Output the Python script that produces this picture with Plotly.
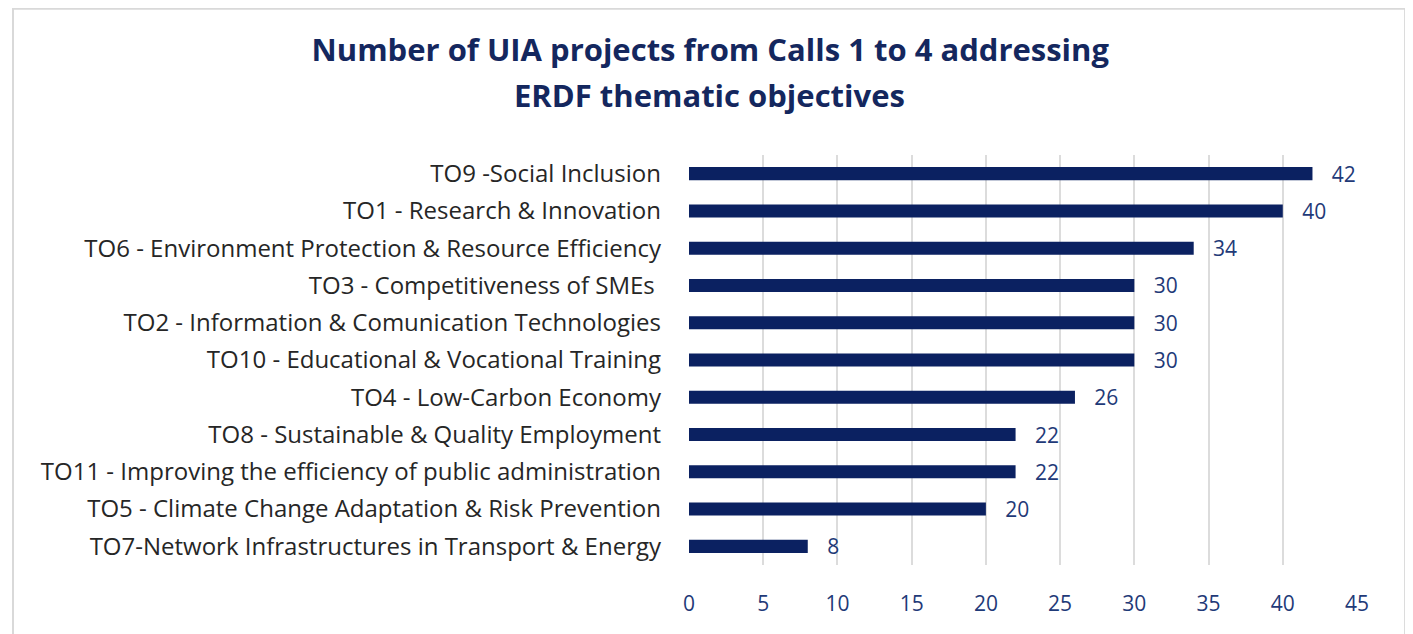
import plotly.graph_objects as go

## 데이터 (위에서 아래 순서)
categories = [
    "TO9 -Social Inclusion",
    "TO1 - Research & Innovation",
    "TO6 - Environment Protection & Resource Efficiency",
    "TO3 - Competitiveness of SMEs ",
    "TO2 - Information & Comunication Technologies",
    "TO10 - Educational & Vocational Training",
    "TO4 - Low-Carbon Economy",
    "TO8 - Sustainable & Quality Employment",
    "TO11 - Improving the efficiency of public administration",
    "TO5 - Climate Change Adaptation & Risk Prevention",
    "TO7-Network Infrastructures in Transport & Energy",
]
projects = [42, 40, 34, 30, 30, 30, 26, 22, 22, 20, 8]
x_ticks = [0, 5, 10, 15, 20, 25, 30, 35, 40, 45]

navy = "#0b2161"
label_navy = "#1f3a78"

fig = go.Figure(go.Bar(
    x=projects,
    y=categories,
    orientation="h",
    marker=dict(color=navy, line=dict(width=0)),
    text=["\u00a0\u00a0\u00a0" + str(v) for v in projects],
    textposition="outside",
    constraintext="none",
    textfont=dict(family="Open Sans", size=21, color=label_navy),
    cliponaxis=False,
))

fig.update_layout(
    width=1413, height=634,
    margin=dict(l=681, r=64, t=147, b=77),
    paper_bgcolor="white", plot_bgcolor="white",
    bargap=0.65,
    showlegend=False,
    title=dict(
        text="<b>Number of UIA projects from Calls 1 to 4 addressing</b>",
        xref="container", x=0.497, xanchor="center",
        yref="container", y=1 - 42 / 634, yanchor="middle",
        font=dict(family="Open Sans", size=31, color="#14275e"),
    ),
    font=dict(family="Open Sans"),
)

## 제목 두번째 줄
fig.add_annotation(
    text="<b>ERDF thematic objectives</b>",
    xref="paper", yref="paper", x=0.031, y=1.146,
    xanchor="center", yanchor="middle", showarrow=False,
    font=dict(family="Open Sans", size=31, color="#14275e"),
)

fig.update_xaxes(
    range=[0, 45], tickvals=x_ticks,
    showgrid=True, gridcolor="#dcdcdc", gridwidth=2,
    zeroline=False, showline=False,
    tickfont=dict(family="Open Sans", size=21, color=label_navy),
    ticklabelstandoff=24,
)
fig.update_yaxes(
    autorange="reversed",
    tickfont=dict(family="Open Sans", size=24, color="#262626"),
    ticklabelstandoff=27,
    showgrid=False,
)

## 차트 테두리
fig.add_shape(type="rect", xref="paper", yref="paper",
              x0=-1.012, x1=1.072, y0=-0.25, y1=1.357,
              line=dict(color="#d9d9d9", width=2), layer="below")

fig.write_html("out.html")
